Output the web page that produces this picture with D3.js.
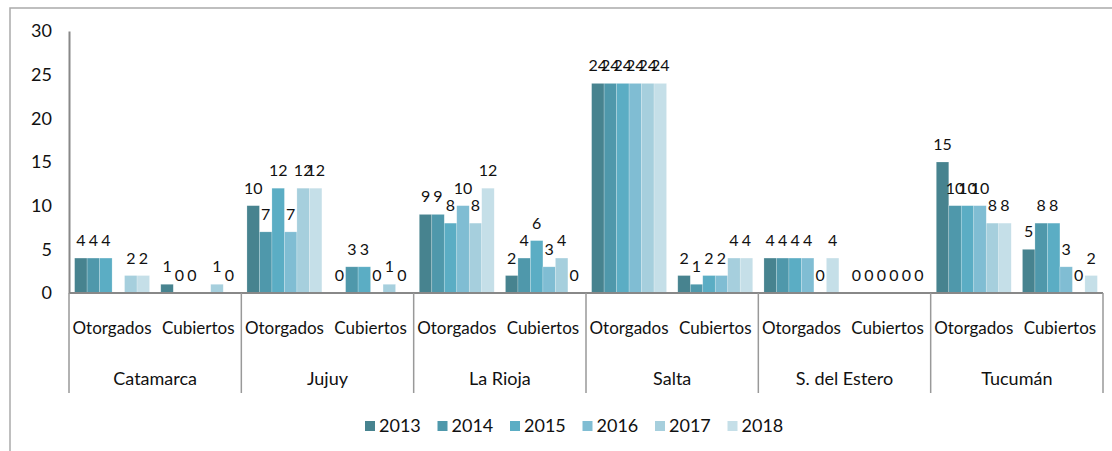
<!DOCTYPE html>
<html>
<head>
<meta charset="utf-8">
<script src="https://cdn.jsdelivr.net/npm/d3@7"></script>
<style>
  body { margin: 0; background: #fff; }
  svg text { font-family: Lato, "Open Sans", sans-serif; fill: #111; }
</style>
</head>
<body>
<svg id="chart" width="1112" height="451"></svg>
<script>
// data
var provinces = ["Catamarca", "Jujuy", "La Rioja", "Salta", "S. del Estero", "Tucumán"];
var kinds = ["Otorgados", "Cubiertos"];
var years = ["2013", "2014", "2015", "2016", "2017", "2018"];
var colors = ["#47838f", "#4f98ab", "#5badc4", "#80bdd3", "#a6cfdd", "#c5dfe8"];
var yTicks = [0, 5, 10, 15, 20, 25, 30];

// one row per province+kind, values for 2013..2018 (null = no bar, no label)
var otorgados = [
  [4, 4, 4, null, 2, 2],
  [10, 7, 12, 7, 12, 12],
  [9, 9, 8, 10, 8, 12],
  [24, 24, 24, 24, 24, 24],
  [4, 4, 4, 4, 0, 4],
  [15, 10, 10, 10, 8, 8]
];
var cubiertos = [
  [1, 0, 0, null, 1, 0],
  [0, 3, 3, 0, 1, 0],
  [2, 4, 6, 3, 4, 0],
  [2, 1, 2, 2, 4, 4],
  [0, 0, 0, 0, 0, 0],
  [5, 8, 8, 3, 0, 2]
];

var svg = d3.select("#chart");
var mLeft = 69, mRight = 1103, mTop = 31, mBottom = 293;

// outer frame of the chart object
svg.append("rect")
  .attr("x", 10).attr("y", 8).attr("width", 1130).attr("height", 470)
  .attr("fill", "none").attr("stroke", "#aaa").attr("stroke-width", 1.5);

var rows = [];
provinces.forEach(function(p, i){
  rows.push({key: p + "|O", prov: p, kind: kinds[0], vals: otorgados[i]});
  rows.push({key: p + "|C", prov: p, kind: kinds[1], vals: cubiertos[i]});
});

var xGroup = d3.scaleBand().domain(provinces).range([mLeft, mRight]);
var xSub = d3.scaleBand().domain(rows.map(function(r){ return r.key; })).range([mLeft, mRight]);
var xYear = d3.scaleBand().domain(years).range([0, xSub.bandwidth()]).paddingOuter(0.45);
var y = d3.scaleLinear().domain([0, 30]).range([mBottom, mTop]);

// y axis
var yAxis = svg.append("g").attr("transform", "translate(" + mLeft + ",0)")
  .call(d3.axisLeft(y).tickValues(yTicks).tickSize(0).tickPadding(17));
yAxis.select(".domain").attr("stroke", "#888").attr("stroke-width", 2);
yAxis.selectAll("text").attr("font-size", 18).attr("fill", "#111")
  .style("font-family", "Lato, sans-serif");

function barData(r){
  return r.vals.map(function(v, j){ return {year: years[j], v: v, j: j}; })
    .filter(function(d){ return d.v !== null; });
}

// bars
var groups = svg.selectAll("g.row").data(rows).enter().append("g")
  .attr("class", "row")
  .attr("transform", function(r){ return "translate(" + xSub(r.key) + ",0)"; });

groups.selectAll("rect").data(barData)
  .enter().append("rect")
  .attr("x", function(d){ return xYear(d.year); })
  .attr("y", function(d){ return y(d.v); })
  .attr("width", xYear.bandwidth())
  .attr("height", function(d){ return y(0) - y(d.v); })
  .attr("fill", function(d){ return colors[d.j]; })
  .attr("stroke", "#ffffff").attr("stroke-opacity", 0.35).attr("stroke-width", 0.6);

groups.selectAll("text").data(barData)
  .enter().append("text")
  .attr("x", function(d){ return xYear(d.year) + xYear.bandwidth() / 2; })
  .attr("y", function(d){ return y(d.v) - 12; })
  .attr("text-anchor", "middle")
  .attr("font-size", 16)
  .text(function(d){ return d.v; });

// x axis line
svg.append("line")
  .attr("x1", mLeft).attr("x2", mRight).attr("y1", mBottom).attr("y2", mBottom)
  .attr("stroke", "#888").attr("stroke-width", 2);

// group separators
var seps = provinces.map(function(p){ return xGroup(p); }).concat([mRight]);
svg.selectAll("line.sep").data(seps).enter().append("line")
  .attr("class", "sep")
  .attr("x1", function(d){ return d; }).attr("x2", function(d){ return d; })
  .attr("y1", mBottom).attr("y2", 393)
  .attr("stroke", "#999").attr("stroke-width", 1.5);

// sub-category labels
svg.selectAll("text.kind").data(rows).enter().append("text")
  .attr("class", "kind")
  .attr("x", function(r){ return xSub(r.key) + xSub.bandwidth() / 2; })
  .attr("y", 334)
  .attr("text-anchor", "middle")
  .attr("font-size", 17)
  .text(function(r){ return r.kind; });

// province labels
svg.selectAll("text.prov").data(provinces).enter().append("text")
  .attr("class", "prov")
  .attr("x", function(p){ return xGroup(p) + xGroup.bandwidth() / 2; })
  .attr("y", 385)
  .attr("text-anchor", "middle")
  .attr("font-size", 18)
  .text(function(p){ return p; });

// legend
var legend = svg.append("g").selectAll("g").data(years).enter().append("g")
  .attr("transform", function(d, i){ return "translate(" + (365 + i * 72.5) + ",421)"; });
legend.append("rect").attr("width", 10).attr("height", 10)
  .attr("fill", function(d, i){ return colors[i]; });
legend.append("text").attr("x", 14).attr("y", 11).attr("font-size", 18)
  .text(function(d){ return d; });
</script>
</body>
</html>
